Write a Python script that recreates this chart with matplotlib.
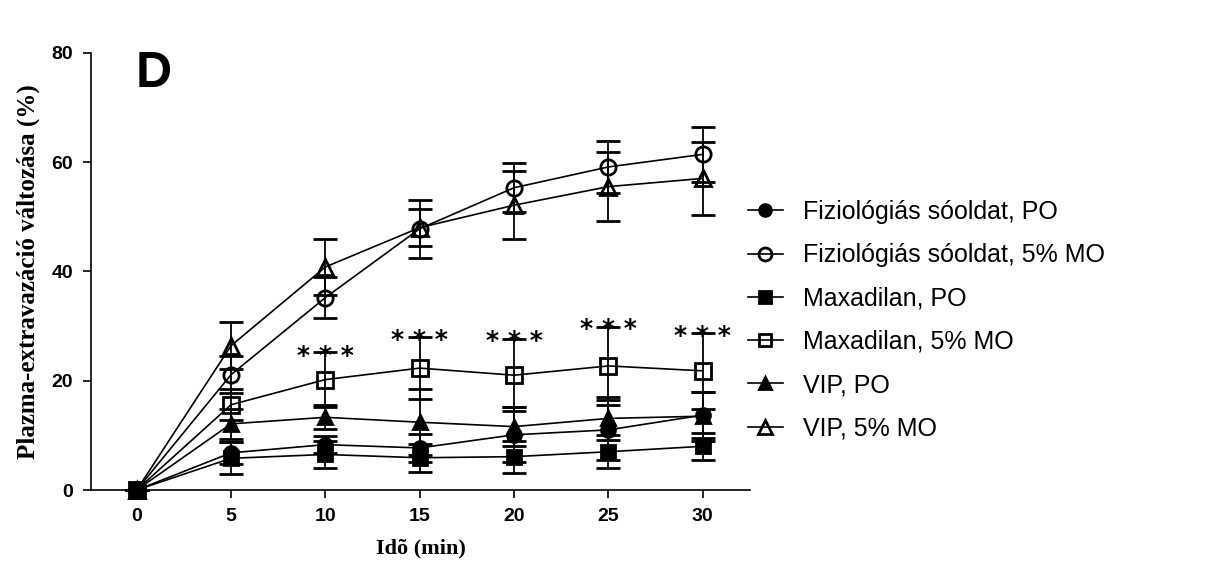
import matplotlib
matplotlib.use("Agg")
import matplotlib.pyplot as plt
from matplotlib.lines import Line2D

# time points (min)
minutes = [0, 5, 10, 15, 20, 25, 30]

fiz_po = [0, 6.8, 8.3, 7.7, 10.1, 11.0, 13.7]
fiz_po_sd = [0, 2.0, 1.5, 2.5, 5.0, 5.5, 4.2]
fiz_mo = [0, 21.1, 35.2, 47.8, 55.3, 59.1, 61.4]
fiz_mo_sd = [0, 3.4, 3.8, 5.3, 4.5, 4.8, 5.0]
max_po = [0, 5.8, 6.5, 5.9, 6.1, 7.0, 8.0]
max_po_sd = [0, 2.9, 2.5, 2.6, 2.9, 3.0, 2.5]
max_mo = [0, 15.6, 20.2, 22.3, 21.0, 22.7, 21.8]
max_mo_sd = [0, 2.8, 5.1, 5.6, 6.6, 7.2, 6.9]
vip_po = [0, 12.1, 13.3, 12.4, 11.6, 13.1, 13.5]
vip_po_sd = [0, 2.8, 2.2, 6.0, 3.5, 4.0, 4.5]
vip_mo = [0, 26.4, 40.8, 48.0, 52.1, 55.5, 57.0]
vip_mo_sd = [0, 4.3, 5.2, 3.4, 6.2, 6.3, 6.7]

labels = ["Fiziológiás sóoldat, PO", "Fiziológiás sóoldat, 5% MO",
          "Maxadilan, PO", "Maxadilan, 5% MO", "VIP, PO", "VIP, 5% MO"]

# significance marks
star_x = [10, 15, 20, 25, 30]
star_y = [24.5, 27.5, 27.2, 29.4, 28.2]

SANS = "Liberation Sans"
SERIF = "Liberation Serif"

fig, ax = plt.subplots(figsize=(12.22, 5.79), dpi=100)
fig.subplots_adjust(left=0.0745, right=0.6137, bottom=0.1537, top=0.909)

series = [
    (fiz_po, fiz_po_sd, "o", "black", 10),
    (fiz_mo, fiz_mo_sd, "o", "none", 11),
    (max_po, max_po_sd, "s", "black", 10),
    (max_mo, max_mo_sd, "s", "none", 11),
    (vip_po, vip_po_sd, "^", "black", 10),
    (vip_mo, vip_mo_sd, "^", "none", 12),
]

handles = []
for (vals, sd, m, fc, ms), lab in zip(series, labels):
    ax.errorbar(minutes, vals, yerr=sd, color="black", lw=1.2, marker=m, ms=ms,
                mfc=fc, mec="black", mew=2, capsize=8.5, capthick=1.3,
                elinewidth=1.3, clip_on=False, zorder=3)
    handles.append(Line2D([0], [0], color="black", lw=1.2, marker=m, ms=ms * 0.85,
                          mfc=fc, mec="black", mew=2))

for sx, sy in zip(star_x, star_y):
    ax.text(sx, sy, "* * *", ha="center", va="center", fontsize=18,
            fontweight="bold", family="DejaVu Sans")

ax.set_xlim(-2.42, 32.5)
ax.set_ylim(0, 80)
ax.set_xticks(minutes)
ax.set_yticks([0, 20, 40, 60, 80])
for s in ["top", "right"]:
    ax.spines[s].set_visible(False)
for s in ["left", "bottom"]:
    ax.spines[s].set_linewidth(1.2)
ax.tick_params(length=6, width=1.2, pad=7)
for t in ax.get_xticklabels() + ax.get_yticklabels():
    t.set_fontsize(14)
    t.set_fontweight("bold")
    t.set_family(SANS)

ax.set_xlabel("Idõ (min)", fontsize=16, fontweight="bold", family=SERIF, labelpad=10)
ax.set_ylabel("Plazma-extravazáció változása (%)", fontsize=18, fontweight="bold",
              family=SERIF, labelpad=8)

fig.text(136 / 1222, 1 - 87 / 579, "D", fontsize=36, fontweight="bold", family=SANS,
         ha="left", va="baseline")

fig.legend(handles, labels, loc="center left", bbox_to_anchor=(0.612, 0.447),
           frameon=False, borderpad=0, borderaxespad=0, handlelength=1.4,
           handletextpad=0.8, labelspacing=0.77,
           prop={"family": SANS, "size": 18})

fig.savefig("out.png", dpi=100)
